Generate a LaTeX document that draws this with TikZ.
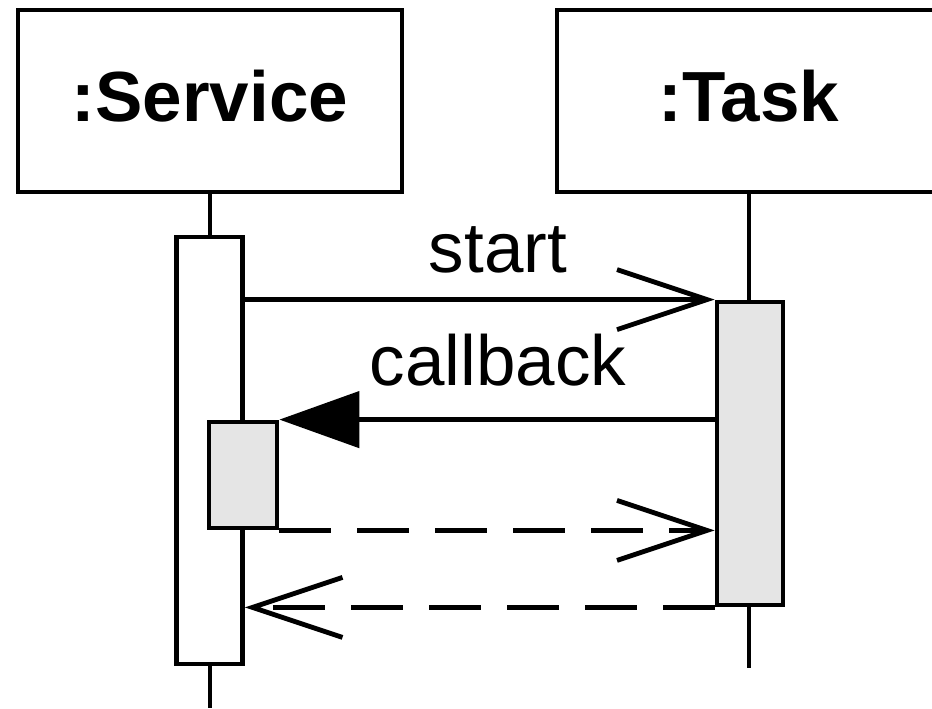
\documentclass[tikz,border=0pt]{standalone}
\usepackage{fontspec}
\setmainfont{Liberation Sans}
\usetikzlibrary{arrows.meta}
\definecolor{actgray}{RGB}{229,229,229}
\begin{document}
\begin{tikzpicture}[x=0.5pt,y=-0.5pt, line width=2.4pt,
  head/.style={draw, fill=white, minimum width=192pt, minimum height=91pt, inner sep=0pt,
    font=\fontsize{35.5}{40}\selectfont\bfseries, text depth=5pt},
  act/.style={draw, fill=white, inner sep=0pt},
  actg/.style={act, fill=actgray},
  callarr/.style={-{Triangle[length=40pt,width=28pt]}},
  openarr/.style={-{Straight Barb[length=45pt,width=30pt]}},
  retarr/.style={openarr, dash pattern=on 26pt off 13pt},
  lbl/.style={font=\fontsize{35.5}{40}\selectfont, anchor=base, inner sep=0pt}]
\useasboundingbox (0,0) rectangle (932,708);
% heads
\node[head] (svc) at (210,101) {:Service};
\node[head] (tsk) at (749,101) {:Task};
% lifeline ends
\coordinate (svcend) at (210,708);
\coordinate (tskend) at (749,668);
\draw (svc.south) -- (svcend);
\draw (tsk.south) -- (tskend);
% activations
\node[act, minimum width=33pt, minimum height=213.5pt] (sact) at (209.5,450.5) {};
\node[actg, minimum width=34pt, minimum height=53pt] (iact) at (243,475) {};
\node[actg, minimum width=33pt, minimum height=151.5pt] (tact) at (750,453.5) {};
% messages
\draw[openarr] (sact.east |- tact.north west) -- (tact.north west);
\draw[callarr] (tact.west |- iact.north east) -- (iact.north east);
\draw[retarr] (iact.south east) -- (tact.west |- iact.south east);
\draw[retarr] (tact.south west) -- (sact.east |- tact.south west);
% labels
\node[lbl] (lstart) at (498,272) {start};
\node[lbl] (lcb) at (498,385) {callback};
\end{tikzpicture}
\end{document}
